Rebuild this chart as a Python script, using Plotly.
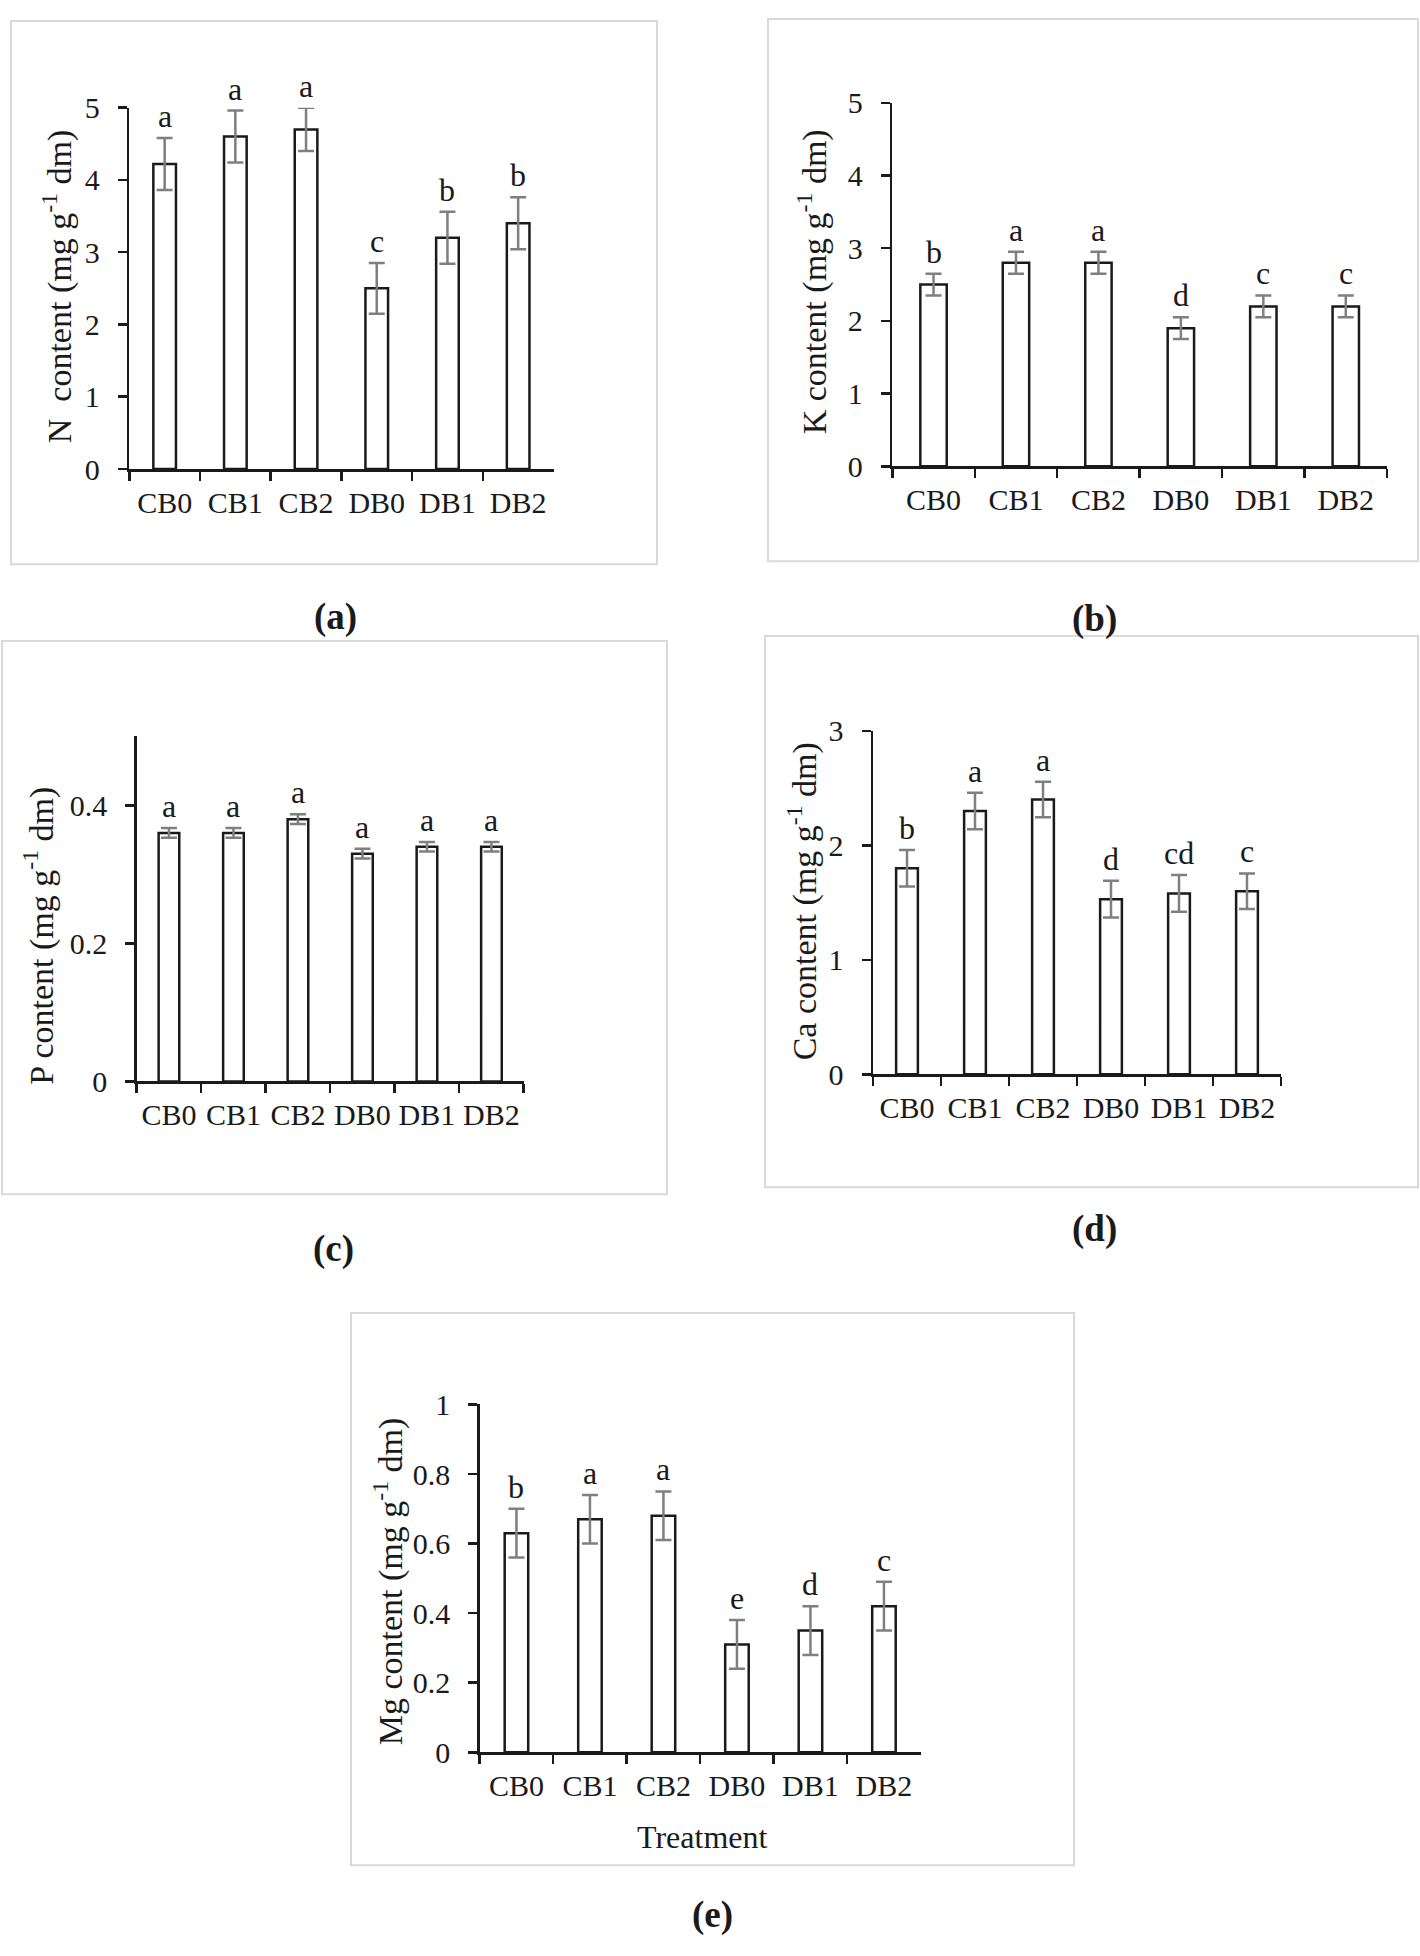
import plotly.graph_objects as go

# ---------------- data ----------------
categories = ["CB0", "CB1", "CB2", "DB0", "DB1", "DB2"]

n_values = [4.22, 4.60, 4.70, 2.50, 3.20, 3.40]
n_errors = [0.36, 0.36, 0.30, 0.35, 0.36, 0.36]
n_letters = ["a", "a", "a", "c", "b", "b"]

k_values = [2.50, 2.80, 2.80, 1.90, 2.20, 2.20]
k_errors = [0.15, 0.15, 0.15, 0.15, 0.15, 0.15]
k_letters = ["b", "a", "a", "d", "c", "c"]

p_values = [0.36, 0.36, 0.38, 0.33, 0.34, 0.34]
p_errors = [0.007, 0.007, 0.007, 0.007, 0.007, 0.007]
p_letters = ["a", "a", "a", "a", "a", "a"]

ca_values = [1.80, 2.30, 2.40, 1.53, 1.58, 1.60]
ca_errors = [0.16, 0.16, 0.155, 0.16, 0.16, 0.155]
ca_letters = ["b", "a", "a", "d", "cd", "c"]

mg_values = [0.63, 0.67, 0.68, 0.31, 0.35, 0.42]
mg_errors = [0.07, 0.07, 0.07, 0.07, 0.07, 0.07]
mg_letters = ["b", "a", "a", "e", "d", "c"]

y_titles = ["N\u00a0 content (mg g<sup>-1</sup> dm)", "K content (mg g<sup>-1</sup> dm)",
            "P content (mg g<sup>-1</sup> dm)", "Ca content (mg g<sup>-1</sup> dm)",
            "Mg content (mg g<sup>-1</sup> dm)"]
panel_labels = ["(a)", "(b)", "(c)", "(d)", "(e)"]
y_ranges = [[0, 5], [0, 5], [0, 0.5], [0, 3], [0, 1]]
y_dticks = [1, 1, 0.2, 1, 0.2]

# ---------------- layout geometry (pixels) ----------------
W, H = 1420, 1956
FONT = "Liberation Serif"
INK = "#1a1a1a"

panels = [
    dict(plot=(129.3, 553.5, 92.3, 460.0), box=(11, 657, 4, 557), ytx=57, yty=274, lab=(335, 611)),
    dict(plot=(892.3, 1387.0, 87.3, 457.3), box=(768, 1418, 2, 554), ytx=812, yty=270, lab=(1094, 613)),
    dict(plot=(136.7, 523.7, 732.0, 1083.3), box=(2, 667, 635, 1198), ytx=39, yty=935, lab=(333, 1254)),
    dict(plot=(873.0, 1281.0, 726.5, 1076.0), box=(765, 1418, 630, 1191), ytx=802, yty=900, lab=(1094, 1233)),
    dict(plot=(479.7, 920.7, 1412.0, 1766.0), box=(351, 1074, 1319, 1881), ytx=388, yty=1592, lab=(712, 1932)),
]

series = [
    (n_values, n_errors, n_letters),
    (k_values, k_errors, k_letters),
    (p_values, p_errors, p_letters),
    (ca_values, ca_errors, ca_letters),
    (mg_values, mg_errors, mg_letters),
]

fig = go.Figure()
annotations = []
shapes = []
layout_axes = {}

for i, (pan, (vals, errs, lets)) in enumerate(zip(panels, series)):
    idx = "" if i == 0 else str(i + 1)
    xa, ya = "x" + idx, "y" + idx
    l, r, t, b = pan["plot"]

    fig.add_trace(go.Bar(
        x=categories, y=vals, xaxis=xa, yaxis=ya, width=0.32,
        marker=dict(color="white", line=dict(color=INK, width=2.5)),
        error_y=dict(type="data", array=errs, visible=True,
                     color="#7f7f7f", thickness=2.5, width=8),
        showlegend=False, hoverinfo="skip",
    ))

    for c, v, e, s in zip(categories, vals, errs, lets):
        annotations.append(dict(
            x=c, y=v + e, xref=xa, yref=ya, text=s, showarrow=False,
            yanchor="bottom", yshift=2,
            font=dict(family=FONT, size=32, color=INK),
        ))

    layout_axes["xaxis" + idx] = dict(
        domain=[l / W, r / W], anchor=ya, type="category",
        showline=True, linecolor=INK, linewidth=2.5,
        ticks="outside", tickson="boundaries", ticklen=9, tickwidth=2.5, tickcolor=INK,
        tickfont=dict(family=FONT, size=30, color=INK), tickangle=0,
        showgrid=False, zeroline=False, fixedrange=True, ticklabelstandoff=5,
    )
    layout_axes["yaxis" + idx] = dict(
        domain=[1 - b / H, 1 - t / H], anchor=xa, range=y_ranges[i],
        dtick=y_dticks[i], tick0=0,
        showline=True, linecolor=INK, linewidth=2.5,
        ticks="outside", ticklen=9, tickwidth=2.5, tickcolor=INK,
        tickfont=dict(family=FONT, size=30, color=INK),
        showgrid=False, zeroline=False, fixedrange=True, ticklabelstandoff=12,
    )

    annotations.append(dict(
        x=pan["ytx"] / W, y=1 - pan["yty"] / H, xref="paper", yref="paper",
        text=y_titles[i], textangle=-90, showarrow=False,
        xanchor="center", yanchor="middle",
        font=dict(family=FONT, size=34, color=INK),
    ))
    annotations.append(dict(
        x=pan["lab"][0] / W, y=1 - pan["lab"][1] / H, xref="paper", yref="paper",
        text="<b>" + panel_labels[i] + "</b>", showarrow=False,
        xanchor="center", yanchor="middle",
        font=dict(family=FONT, size=37, color=INK),
    ))
    bl, br, bt, bb = pan["box"]
    shapes.append(dict(
        type="rect", xref="paper", yref="paper",
        x0=bl / W, x1=br / W, y0=1 - bb / H, y1=1 - bt / H,
        line=dict(color="#d9d9d9", width=2), fillcolor="rgba(0,0,0,0)", layer="below",
    ))

annotations.append(dict(
    x=702 / W, y=1 - 1852 / H, xref="paper", yref="paper",
    text="Treatment", showarrow=False, xanchor="center", yanchor="middle",
    font=dict(family=FONT, size=32, color=INK),
))

fig.update_layout(
    width=W, height=H,
    margin=dict(l=0, r=0, t=0, b=0),
    paper_bgcolor="white", plot_bgcolor="white",
    annotations=annotations, shapes=shapes,
)
fig.update_layout(**layout_axes)

fig.write_html(
    "out.html",
    config={"displayModeBar": False, "staticPlot": True},
    post_script=(
        "document.body.style.margin='0';"
        "document.body.style.overflow='hidden';"
        "var d=document.getElementsByClassName('plotly-graph-div')[0];"
        "d.style.position='fixed';d.style.top='0px';d.style.left='0px';"
    ),
)
